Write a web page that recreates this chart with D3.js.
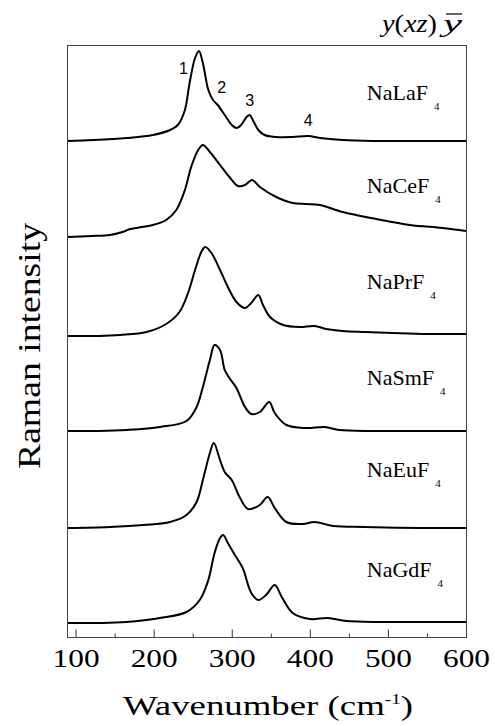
<!DOCTYPE html>
<html>
<head>
<meta charset="utf-8">
<title>Raman spectra</title>
<script src="https://cdn.jsdelivr.net/npm/d3@7"></script>
<style>
  body { margin: 0; background: #fff; }
  .frame { fill: none; stroke: #444; stroke-width: 1; }
  .spec { fill: none; stroke: #000; stroke-width: 2; stroke-linejoin: round; }
  text { font-family: "Liberation Serif", "Times New Roman", serif; fill: #000; }
</style>
</head>
<body>
<script>
// spectra: [wavenumber, intensity (a.u., offset included)]
let names = ["NaLaF", "NaCeF", "NaPrF", "NaSmF", "NaEuF", "NaGdF"];

let laF4 = [[89,496],[123,497],[165,499],[199,502],[221,507],[231,512],[240,527],[246,554],[253,579],[258,586],[263,574],[270,547],[276,537],[282,532],[291,522],[300,512],[306,509],[312,512],[319,520],[323,522],[327,517],[334,507],[342,502],[357,500],[378,500],[398,501],[413,499],[442,497],[480,496],[540,496],[600,496]];
let ceF4 = [[89,400],[120,401],[144,402],[160,405],[170,408],[185,410],[199,412],[216,417],[229,427],[240,447],[248,470],[257,487],[263,492],[272,485],[285,472],[297,460],[308,451],[317,452],[326,457],[336,450],[357,440],[378,434],[395,433],[413,432],[442,425],[485,418],[528,412],[570,409],[600,406]];
let prF4 = [[89,301],[130,301],[157,302],[191,305],[216,313],[233,325],[244,344],[253,367],[261,385],[266,390],[274,384],[285,367],[295,350],[306,335],[317,329],[325,334],[334,342],[340,332],[349,320],[366,312],[387,310],[406,311],[421,308],[442,306],[470,305],[506,304],[550,303],[600,303]];
let smF4 = [[89,206],[130,206],[165,207],[208,210],[242,216],[255,230],[263,250],[272,277],[278,292],[285,287],[291,267],[297,259],[306,249],[317,230],[325,223],[336,225],[348,235],[355,224],[370,212],[395,209],[419,210],[438,207],[480,206],[540,206],[600,206]];
let euF4 = [[89,109],[144,110],[187,112],[221,115],[242,122],[255,135],[263,157],[272,184],[277,194],[285,177],[291,165],[300,157],[310,140],[321,128],[336,132],[346,140],[355,129],[370,115],[391,113],[406,115],[430,111],[470,110],[540,109],[600,109]];
let gdF4 = [[89,14],[130,14],[165,15],[208,19],[242,25],[259,37],[270,57],[278,84],[285,99],[289,102],[295,94],[304,82],[314,69],[325,44],[334,37],[344,42],[355,52],[364,40],[378,24],[400,18],[423,19],[447,16],[490,15],[545,15],[600,15]];

let spectra = [laF4, ceF4, prF4, smF4, euF4, gdF4];
let labelLevel = [537, 444, 348, 252, 160, 60];   // baseline of each name label
let labelAt = 473;

// mode numbers on the NaLaF4 trace
let modes = ["1", "2", "3", "4"];
let modePos = [[238, 563], [287, 544], [323, 531], [398, 511]];

let majorTicks = [100, 200, 300, 400, 500, 600];
let minorTicks = [150, 250, 350, 450, 550];

let width = 495, height = 726;
let margin = { left: 67, right: 29, top: 45, bottom: 89 };

let svg = d3.select("body").append("svg")
    .attr("width", width)
    .attr("height", height);

let x = d3.scaleLinear().domain([89, 600]).range([margin.left, width - margin.right]);
let y = d3.scaleLinear().domain([0, 592]).range([height - margin.bottom, margin.top]);

let line = d3.line()
    .x(function (d) { return x(d[0]); })
    .y(function (d) { return y(d[1]); })
    .curve(d3.curveCatmullRom.alpha(0.5));

svg.selectAll("path.spec")
    .data(spectra)
    .enter().append("path")
    .attr("class", "spec")
    .attr("d", line);

// frame
svg.append("rect")
    .attr("class", "frame")
    .attr("x", x(89) + 0.5)
    .attr("y", y(592) + 0.5)
    .attr("width", x(600) - x(89))
    .attr("height", y(0) - y(592));

// bottom axis, ticks pointing inward
let xAxis = d3.axisBottom(x).tickValues(majorTicks).tickSize(-8).tickSizeOuter(0)
    .tickPadding(12).tickFormat(d3.format("d"));
let gx = svg.append("g")
    .attr("transform", "translate(0," + (y(0) + 0.5) + ")")
    .call(xAxis);
gx.select(".domain").remove();
gx.selectAll("line").attr("stroke", "#333");
gx.selectAll("text")
    .attr("font-size", 25)
    .attr("fill", "#000")
    .attr("textLength", 47)
    .attr("lengthAdjust", "spacingAndGlyphs");

let gMinor = svg.append("g")
    .attr("transform", "translate(0," + (y(0) + 0.5) + ")")
    .call(d3.axisBottom(x).tickValues(minorTicks).tickSize(-4).tickFormat(""));
gMinor.select(".domain").remove();
gMinor.selectAll("line").attr("stroke", "#333");

// name labels
let labels = svg.selectAll("text.name")
    .data(names)
    .enter().append("text")
    .attr("class", "name")
    .attr("x", x(labelAt))
    .attr("y", function (d, i) { return y(labelLevel[i]); })
    .attr("font-size", 22);
labels.append("tspan").text(function (d) { return d; });
labels.append("tspan").attr("dx", 6).attr("dy", 10).attr("font-size", 11).text("4");

// mode numbers
svg.selectAll("text.mode")
    .data(modes)
    .enter().append("text")
    .attr("class", "mode")
    .attr("x", function (d, i) { return x(modePos[i][0]); })
    .attr("y", function (d, i) { return y(modePos[i][1]); })
    .attr("text-anchor", "middle")
    .style("font-family", "Arial, 'Liberation Sans', sans-serif")
    .attr("font-size", 16)
    .text(function (d) { return d; });

// axis titles
let xTitle = svg.append("text")
    .attr("x", 268)
    .attr("y", 715)
    .attr("text-anchor", "middle")
    .attr("font-size", 27)
    .attr("textLength", 290)
    .attr("lengthAdjust", "spacingAndGlyphs");
xTitle.append("tspan").text("Wavenumber (cm");
xTitle.append("tspan").attr("dy", -11).attr("font-size", 14).text("-1");
xTitle.append("tspan").attr("dy", 11).text(")");

svg.append("text")
    .attr("transform", "translate(40,346) rotate(-90)")
    .attr("text-anchor", "middle")
    .attr("font-size", 32)
    .attr("textLength", 246)
    .attr("lengthAdjust", "spacingAndGlyphs")
    .text("Raman intensity");

// scattering geometry y(xz)y-bar
let geo = svg.append("text")
    .attr("x", 382)
    .attr("y", 32)
    .attr("font-size", 25)
    .attr("textLength", 55)
    .attr("lengthAdjust", "spacingAndGlyphs");
geo.append("tspan").attr("font-style", "italic").text("y");
geo.append("tspan").text("(");
geo.append("tspan").attr("font-style", "italic").text("xz");
geo.append("tspan").text(")");
svg.append("text")
    .attr("x", 443)
    .attr("y", 32)
    .attr("font-size", 25)
    .attr("font-style", "italic")
    .attr("textLength", 19)
    .attr("lengthAdjust", "spacingAndGlyphs")
    .text("y");
svg.append("line")
    .attr("x1", 446).attr("x2", 462)
    .attr("y1", 14).attr("y2", 14)
    .attr("stroke", "#000").attr("stroke-width", 1.2);
</script>
</body>
</html>
